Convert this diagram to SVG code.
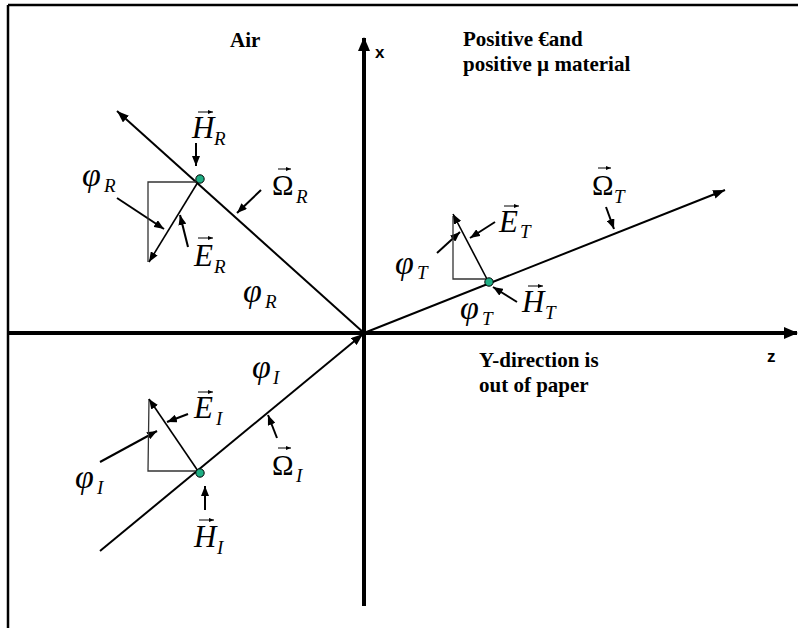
<svg xmlns="http://www.w3.org/2000/svg" width="798" height="628" viewBox="0 0 798 628">
<style>
.ray{stroke:#000;stroke-width:2;fill:none;marker-end:url(#rh)}
.ptr{stroke:#000;stroke-width:2;fill:none;marker-end:url(#ph)}
.tri{stroke:#333;stroke-width:1.3;fill:none}
.ev{stroke:#000;stroke-width:1.6;fill:none;marker-end:url(#eh)}
.va{stroke:#000;stroke-width:1;fill:none;marker-end:url(#vh)}
.axis{stroke:#000;stroke-width:4;fill:none;marker-end:url(#axh)}
.dot{fill:#1fae84;stroke:#000;stroke-width:1}
</style>
<defs>
<marker id="axh" markerUnits="userSpaceOnUse" markerWidth="14" markerHeight="12" refX="13" refY="6" orient="auto"><path d="M0,0 L14,6 L0,12 z" fill="#000"/></marker>
<marker id="rh" markerUnits="userSpaceOnUse" markerWidth="12" markerHeight="9" refX="12" refY="4.5" orient="auto"><path d="M0,0 L12,4.5 L0,9 z" fill="#000"/></marker>
<marker id="ph" markerUnits="userSpaceOnUse" markerWidth="10" markerHeight="8" refX="10" refY="4" orient="auto"><path d="M0,0 L10,4 L0,8 z" fill="#000"/></marker>
<marker id="eh" markerUnits="userSpaceOnUse" markerWidth="10" markerHeight="8" refX="10" refY="4" orient="auto"><path d="M0,0 L10,4 L0,8 z" fill="#000"/></marker>
<marker id="vh" markerUnits="userSpaceOnUse" markerWidth="5" markerHeight="4" refX="5" refY="2" orient="auto"><path d="M0,0 L5,2 L0,4 z" fill="#000"/></marker>
</defs>
<rect width="798" height="628" fill="#fff"/>
<g id="frame">
<line x1="8" y1="5" x2="798" y2="5" stroke="#000" stroke-width="2.5"/>
<line x1="8" y1="5" x2="8" y2="628" stroke="#000" stroke-width="2.5"/>
</g>
<g id="axes">
<line class="axis" x1="364" y1="606" x2="364" y2="38"/>
<line class="axis" x1="8" y1="333" x2="797" y2="333"/>
<g font-family="Liberation Sans, Arial, sans-serif" font-weight="bold" font-size="17">
<text x="375" y="58">x</text>
<text x="767" y="362">z</text>
</g>
</g>
<g id="region-labels" font-family="Liberation Serif, Times New Roman, serif" font-weight="bold" font-size="21">
<text x="230" y="47">Air</text>
<text x="463" y="46">Positive €and</text>
<text x="463" y="71">positive µ material</text>
<text x="479" y="367">Y-direction is</text>
<text x="479" y="392">out of paper</text>
</g>
<g id="connectors">
<line class="ray" x1="364" y1="333" x2="117" y2="111"/>
<line class="ray" x1="364" y1="333" x2="725" y2="190"/>
<line class="ray" x1="100" y1="551" x2="363" y2="334"/>
<line class="ptr" x1="196" y1="143" x2="196" y2="166"/>
<line class="ptr" x1="117" y1="198" x2="164" y2="229"/>
<line class="ptr" x1="188" y1="247" x2="180" y2="215"/>
<line class="ptr" x1="261" y1="190" x2="237" y2="213"/>
<line class="ptr" x1="437" y1="253" x2="460" y2="232"/>
<line class="ptr" x1="495" y1="222" x2="470" y2="238"/>
<line class="ptr" x1="606" y1="207" x2="614" y2="229"/>
<line class="ptr" x1="517" y1="302" x2="493" y2="287"/>
<line class="ptr" x1="188" y1="414" x2="167" y2="422"/>
<line class="ptr" x1="100" y1="462" x2="157" y2="431"/>
<line class="ptr" x1="277" y1="438" x2="268" y2="415"/>
<line class="ptr" x1="205" y1="510" x2="205" y2="486"/>
</g>
<g font-family="Liberation Serif, Times New Roman, serif">
<g id="reflected">
<polyline class="tri" points="198,182 148,182 148,262"/>
<line class="ev" x1="198" y1="182" x2="149" y2="262"/>
<circle class="dot" cx="200" cy="179" r="4.2"/>
<text x="192" y="138" font-style="italic" font-size="31">H</text><text x="214" y="145" font-style="italic" font-size="19">R</text><line class="va" x1="198" y1="112" x2="213" y2="112"/>
<text x="82" y="186" font-style="italic" font-size="34">φ</text><text x="104" y="192" font-style="italic" font-size="19">R</text>
<text x="194" y="266" font-style="italic" font-size="31">E</text><text x="214" y="273" font-style="italic" font-size="19">R</text><line class="va" x1="198" y1="238" x2="213" y2="238"/>
<text x="272" y="195" font-size="29">Ω</text><text x="296" y="203" font-style="italic" font-size="19">R</text><line class="va" x1="278" y1="169" x2="291" y2="169"/>
<text x="243" y="302" font-style="italic" font-size="34">φ</text><text x="265" y="308" font-style="italic" font-size="19">R</text>
</g>
<g id="transmitted">
<polyline class="tri" points="487,279 453,279 453,216"/>
<line class="ev" x1="488" y1="281" x2="453" y2="214"/>
<circle class="dot" cx="489" cy="282" r="4.2"/>
<text x="395" y="274" font-style="italic" font-size="34">φ</text><text x="417" y="279" font-style="italic" font-size="19">T</text>
<text x="499" y="232" font-style="italic" font-size="31">E</text><text x="520" y="238" font-style="italic" font-size="19">T</text><line class="va" x1="504" y1="206" x2="519" y2="206"/>
<text x="592" y="195" font-size="29">Ω</text><text x="614" y="203" font-style="italic" font-size="19">T</text><line class="va" x1="598" y1="168" x2="611" y2="168"/>
<text x="522" y="312" font-style="italic" font-size="31">H</text><text x="545" y="319" font-style="italic" font-size="19">T</text><line class="va" x1="528" y1="286" x2="543" y2="286"/>
<text x="460" y="319" font-style="italic" font-size="34">φ</text><text x="482" y="325" font-style="italic" font-size="19">T</text>
</g>
<g id="incident">
<polyline class="tri" points="149,399 148,471 198,471"/>
<line class="ev" x1="198" y1="471" x2="149" y2="399"/>
<circle class="dot" cx="200" cy="473" r="4.2"/>
<text x="252" y="378" font-style="italic" font-size="34">φ</text><text x="273" y="384" font-style="italic" font-size="19">I</text>
<text x="194" y="418" font-style="italic" font-size="31">E</text><text x="216" y="425" font-style="italic" font-size="19">I</text><line class="va" x1="198" y1="392" x2="213" y2="392"/>
<text x="75" y="488" font-style="italic" font-size="34">φ</text><text x="97" y="494" font-style="italic" font-size="19">I</text>
<text x="272" y="475" font-size="29">Ω</text><text x="296" y="482" font-style="italic" font-size="19">I</text><line class="va" x1="278" y1="448" x2="291" y2="448"/>
<text x="194" y="547" font-style="italic" font-size="31">H</text><text x="217" y="554" font-style="italic" font-size="19">I</text><line class="va" x1="199" y1="520" x2="214" y2="520"/>
</g>
</g>
</svg>
